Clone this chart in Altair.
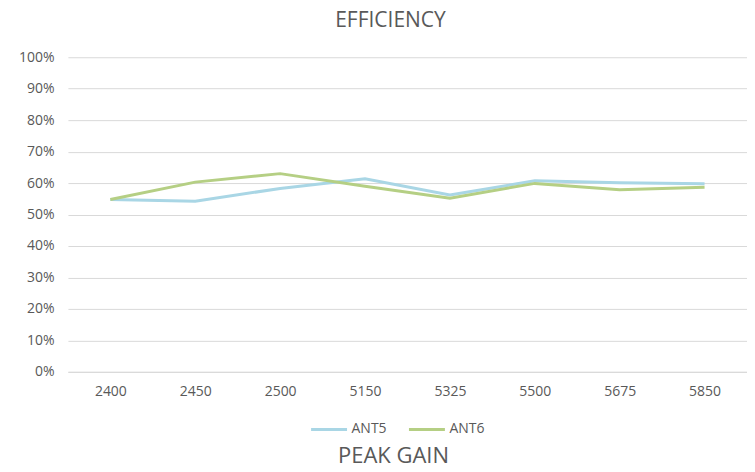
import altair as alt
import pandas as pd

freqs = ["2400", "2450", "2500", "5150", "5325", "5500", "5675", "5850"]
ant5 = [0.548, 0.542, 0.583, 0.614, 0.562, 0.607, 0.601, 0.598]
ant6 = [0.548, 0.603, 0.630, 0.590, 0.552, 0.599, 0.579, 0.587]
series_names = ["ANT5", "ANT6"]
series_colors = ["#a9d6e5", "#b5cf84"]
y_ticks = [i / 10 for i in range(11)]

rows = []
for name, vals in zip(series_names, [ant5, ant6]):
    for f, v in zip(freqs, vals):
        rows.append({"freq": f, "value": v, "series": name})
df = pd.DataFrame(rows)

FONT = "Open Sans"
TXT = "#595959"

lines = alt.Chart(df).mark_line(strokeWidth=3).encode(
    x=alt.X("freq:N", sort=freqs, title=None,
            axis=alt.Axis(labelAngle=0, ticks=False, domainColor="#d9d9d9",
                          labelPadding=13, labelFontSize=14, labelColor=TXT,
                          labelFont=FONT, grid=False)),
    y=alt.Y("value:Q", title=None, scale=alt.Scale(domain=[0, 1], nice=False),
            axis=alt.Axis(values=y_ticks, format=".0%", ticks=False, domain=False,
                          gridColor="#d9d9d9", labelPadding=14, labelFontSize=14,
                          labelColor=TXT, labelFont=FONT)),
    color=alt.Color("series:N", sort=series_names,
                    scale=alt.Scale(domain=series_names, range=series_colors),
                    legend=alt.Legend(title=None, orient="none", direction="horizontal",
                                      legendX=242, legendY=353,
                                      symbolType="stroke", symbolSize=1296,
                                      symbolStrokeWidth=3, labelFontSize=14,
                                      labelColor=TXT, labelFont=FONT,
                                      labelOffset=3, columnPadding=15)),
)

title_df = pd.DataFrame({"t": ["EFFICIENCY"]})
title = alt.Chart(title_df).mark_text(fontSize=21, font=FONT, color=TXT,
                                      baseline="alphabetic", align="center").encode(
    x=alt.value(323), y=alt.value(-30), text="t:N")

xt_df = pd.DataFrame({"t": ["PEAK GAIN"]})
xtitle = alt.Chart(xt_df).mark_text(fontSize=22, font=FONT, color=TXT,
                                    baseline="alphabetic", align="center").encode(
    x=alt.value(326), y=alt.value(406), text="t:N")

chart = alt.layer(lines, title, xtitle).properties(
    width=680, height=315,
    autosize=alt.AutoSizeParams(type="none"),
    padding={"left": 60, "top": 49, "right": 0, "bottom": 92},
).configure_view(stroke=None)

chart.save("out.html", embed_options={"renderer": "svg", "actions": False})
